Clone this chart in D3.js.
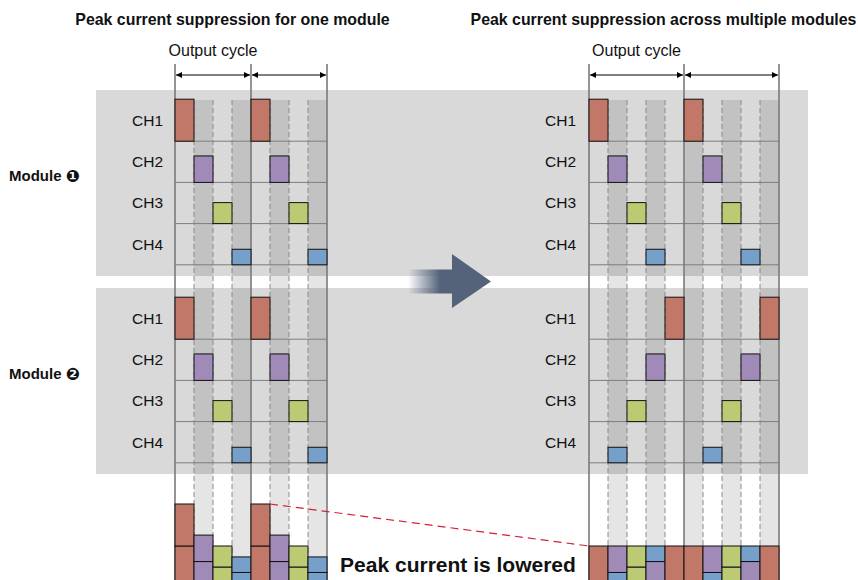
<!DOCTYPE html>
<meta charset="utf-8">
<title>Peak current suppression</title>
<head>
  <script src="https://d3js.org/d3.v7.min.js"></script>
  <style>
    body { margin: 0; background: #fff; }
    text { font-family: "Liberation Sans", Arial, Helvetica, sans-serif; fill: #111; }
  </style>
</head>
<body>
  <div id="chart"></div>
  <script>
    var width = 858
    var height = 580

    // chart data
    var channels = ["CH1", "CH2", "CH3", "CH4"];
    var channelCurrent = [1.0, 0.63, 0.5, 0.37];   // relative peak current per channel
    var channelColors = ["#c17868", "#a08bb8", "#bccb73", "#76a0ca"];
    var moduleNames = ["Module", "Module"];
    var moduleMarks = ["\u2776", "\u2777"];
    var cycles = 2;
    // slot inside one output cycle where each channel fires, per module
    var leftSlots = [[0, 1, 2, 3], [0, 1, 2, 3]];
    var rightSlots = [[0, 1, 2, 3], [4, 3, 2, 1]];
    var panelTitles = ["Peak current suppression for one module", "Peak current suppression across multiple modules"];
    var cycleLabel = "Output cycle";
    var resultLabel = "Peak current is lowered";

    var panels = [
      { title: panelTitles[0], titleX: 232.5, n: 4, slots: leftSlots, x0: 175, x1: 327, labelX: 132 },
      { title: panelTitles[1], titleX: 663.5, n: 5, slots: rightSlots, x0: 589, x1: 779, labelX: 545 }
    ];

    var bandTop = [90, 288];
    var bandH = 186;
    var rowStep = 41.2;
    var stackBase = 588;

    var hScale = d3.scaleLinear().domain([0, 1]).range([0, 42]);

    function rowBase(m, c) {
      return bandTop[m] + 10 + (c + 1) * rowStep;
    }

    var svg = d3.select("#chart")
      .append("svg")
      .attr("width", width)
      .attr("height", height);

    var defs = svg.append("defs");
    defs.append("marker")
      .attr("id", "head")
      .attr("viewBox", "0 0 10 10")
      .attr("refX", 10)
      .attr("refY", 5)
      .attr("markerWidth", 6)
      .attr("markerHeight", 6)
      .attr("markerUnits", "userSpaceOnUse")
      .attr("orient", "auto-start-reverse")
      .append("path")
      .attr("d", "M0,0L10,5L0,10z")
      .attr("fill", "#000");

    var grad = defs.append("linearGradient")
      .attr("id", "blur")
      .attr("gradientUnits", "userSpaceOnUse")
      .attr("x1", 408).attr("x2", 440).attr("y1", 0).attr("y2", 0);
    grad.append("stop").attr("offset", 0).attr("stop-color", "#55637a").attr("stop-opacity", 0);
    grad.append("stop").attr("offset", 1).attr("stop-color", "#55637a").attr("stop-opacity", 1);

    // grey module bands
    svg.selectAll("rect.band")
      .data(bandTop)
      .enter().append("rect")
      .attr("class", "band")
      .attr("x", 96)
      .attr("y", function(d) { return d; })
      .attr("width", 712)
      .attr("height", bandH)
      .attr("fill", "#d9d9d9");

    // module labels
    var ml = svg.selectAll("text.module")
      .data(moduleNames)
      .enter().append("text")
      .attr("class", "module")
      .attr("x", 9)
      .attr("y", function(d, i) { return bandTop[i] + 91; })
      .attr("font-size", 15)
      .attr("font-weight", "bold");
    ml.append("tspan").text(function(d) { return d + " "; });
    ml.append("tspan")
      .attr("font-family", "DejaVu Sans")
      .attr("font-size", 17)
      .attr("dy", 0.5)
      .text(function(d, i) { return moduleMarks[i]; });

    // big arrow between panels
    svg.append("path")
      .attr("d", "M408,269.5L452,269.5L452,254L491,281.5L452,308L452,293.5L408,293.5Z")
      .attr("fill", "url(#blur)");

    var stackTops = [];

    panels.forEach(function(p, pi) {
      var total = cycles * p.n;
      var xs = d3.scaleLinear().domain([0, total]).range([p.x0, p.x1]);
      var sw = xs(1) - xs(0);
      var g = svg.append("g");

      // title
      g.append("text")
        .attr("x", p.titleX)
        .attr("y", 25)
        .attr("text-anchor", "middle")
        .attr("font-size", 15.9)
        .attr("font-weight", "bold")
        .text(p.title);

      // alternating slot stripes
      g.selectAll("rect.stripe")
        .data(d3.range(total).filter(function(i) { return i % 2 == 1; }))
        .enter().append("rect")
        .attr("x", function(i) { return xs(i); })
        .attr("y", 100)
        .attr("width", sw)
        .attr("height", 490)
        .attr("fill", "#000")
        .attr("fill-opacity", 0.1);

      // dashed slot boundaries
      g.selectAll("line.dash")
        .data(d3.range(1, total).filter(function(i) { return i % p.n != 0; }))
        .enter().append("line")
        .attr("x1", function(i) { return xs(i); })
        .attr("x2", function(i) { return xs(i); })
        .attr("y1", 100)
        .attr("y2", 590)
        .attr("stroke", "#8a8a8a")
        .attr("stroke-width", 1)
        .attr("stroke-dasharray", "5,3");

      // channel rows
      moduleNames.forEach(function(mod, m) {
        channels.forEach(function(ch, c) {
          g.append("line")
            .attr("x1", p.x0).attr("x2", p.x1)
            .attr("y1", rowBase(m, c)).attr("y2", rowBase(m, c))
            .attr("stroke", "#7d7d7d")
            .attr("stroke-width", 1);
          g.append("text")
            .attr("x", p.labelX)
            .attr("y", rowBase(m, c) - rowStep / 2)
            .attr("dy", "0.35em")
            .attr("font-size", 15.5)
            .text(ch);
        });
      });

      // output cycle boundaries
      g.selectAll("line.cycle")
        .data(d3.range(cycles + 1))
        .enter().append("line")
        .attr("x1", function(k) { return xs(k * p.n); })
        .attr("x2", function(k) { return xs(k * p.n); })
        .attr("y1", 64)
        .attr("y2", 590)
        .attr("stroke", "#7a7a7a")
        .attr("stroke-width", 1.6);

      // output cycle arrows
      g.selectAll("line.span")
        .data(d3.range(cycles))
        .enter().append("line")
        .attr("x1", function(k) { return xs(k * p.n) + 1; })
        .attr("x2", function(k) { return xs((k + 1) * p.n) - 1; })
        .attr("y1", 75)
        .attr("y2", 75)
        .attr("stroke", "#000")
        .attr("stroke-width", 1)
        .attr("marker-start", "url(#head)")
        .attr("marker-end", "url(#head)");

      g.append("text")
        .attr("x", (xs(0) + xs(p.n)) / 2)
        .attr("y", 56)
        .attr("text-anchor", "middle")
        .attr("font-size", 16)
        .text(cycleLabel);

      // current pulses for each module / channel
      var pulses = [];
      moduleNames.forEach(function(mod, m) {
        channels.forEach(function(ch, c) {
          d3.range(cycles).forEach(function(k) {
            pulses.push({ m: m, c: c, slot: k * p.n + p.slots[m][c] });
          });
        });
      });

      g.selectAll("rect.pulse")
        .data(pulses)
        .enter().append("rect")
        .attr("x", function(d) { return xs(d.slot); })
        .attr("y", function(d) { return rowBase(d.m, d.c) - hScale(channelCurrent[d.c]); })
        .attr("width", sw)
        .attr("height", function(d) { return hScale(channelCurrent[d.c]); })
        .attr("fill", function(d) { return channelColors[d.c]; })
        .attr("stroke", "#111")
        .attr("stroke-width", 1);

      // summed current, module 2 at the bottom, module 1 stacked on top
      var segs = [];
      var tops = [];
      d3.range(total).forEach(function(i) {
        var y = stackBase;
        [1, 0].forEach(function(m) {
          var c = p.slots[m].indexOf(i % p.n);
          if (c < 0) return;
          var h = hScale(channelCurrent[c]);
          y -= h;
          segs.push({ slot: i, c: c, y: y, h: h });
        });
        tops.push(y);
      });
      stackTops.push({ xs: xs, tops: tops });

      g.selectAll("rect.sum")
        .data(segs)
        .enter().append("rect")
        .attr("x", function(d) { return xs(d.slot); })
        .attr("y", function(d) { return d.y; })
        .attr("width", sw)
        .attr("height", function(d) { return d.h; })
        .attr("fill", function(d) { return channelColors[d.c]; })
        .attr("stroke", "#111")
        .attr("stroke-width", 1);
    });

    // peak comparison line
    svg.append("line")
      .attr("x1", stackTops[0].xs(5))
      .attr("y1", stackTops[0].tops[4])
      .attr("x2", stackTops[1].xs(0))
      .attr("y2", stackTops[1].tops[0])
      .attr("stroke", "#d2203a")
      .attr("stroke-width", 1.2)
      .attr("stroke-dasharray", "8,5");

    svg.append("text")
      .attr("x", 458)
      .attr("y", 572)
      .attr("text-anchor", "middle")
      .attr("font-size", 21)
      .attr("font-weight", "bold")
      .text(resultLabel);
  </script>
</body>
